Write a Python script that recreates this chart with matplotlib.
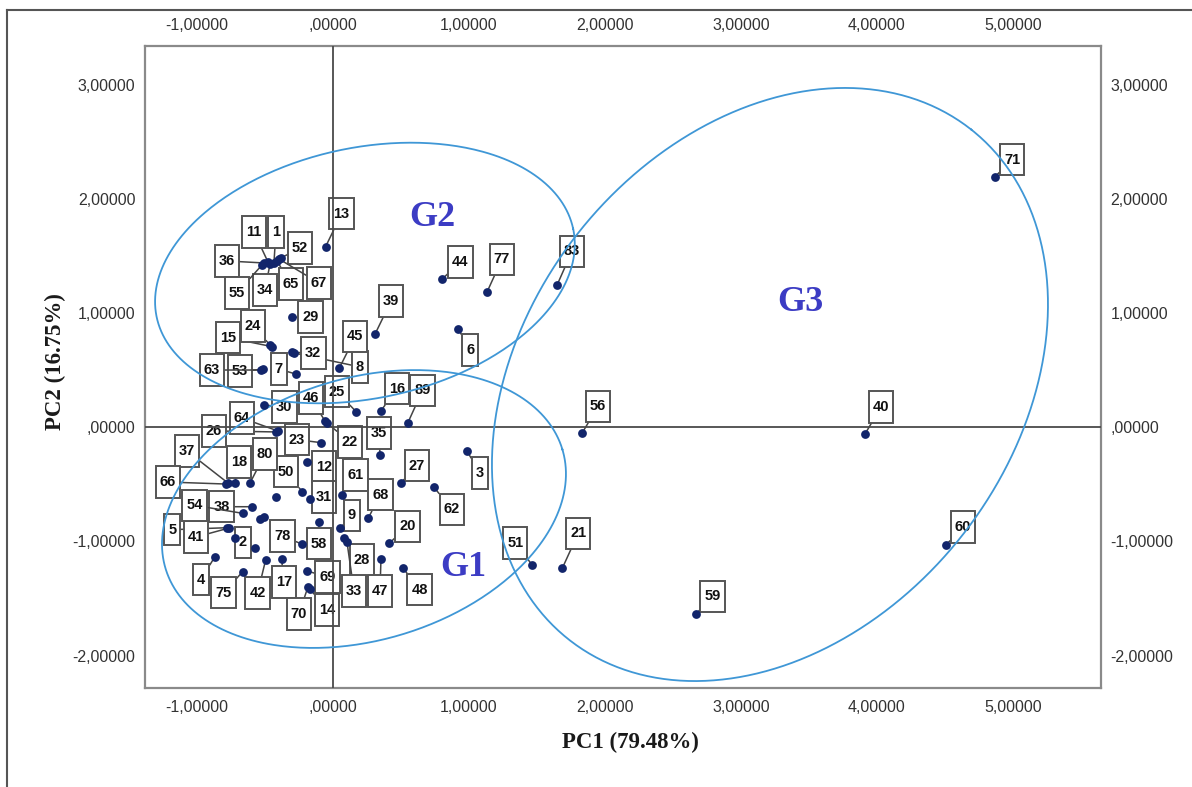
import numpy as np
import matplotlib.pyplot as plt
from matplotlib.lines import Line2D
from matplotlib.path import Path
from matplotlib.ticker import FuncFormatter

# PCA scores (label, PC1, PC2); '' = point drawn without label
point_ids = ['1', '2', '3', '4', '5', '6', '7', '8', '9', '11', '12', '13', '14', '15',
             '16', '17', '18', '20', '21', '22', '23', '24', '25', '26', '27', '28', '29',
             '30', '31', '32', '33', '34', '35', '36', '37', '38', '39', '40', '41', '42',
             '44', '45', '46', '47', '48', '50', '51', '52', '53', '54', '55', '56', '58',
             '59', '60', '61', '62', '63', '64', '65', '66', '67', '68', '69', '70', '71',
             '75', '77', '78', '80', '83', '89', '', '', '', '']
pc1 = [-0.434, -0.721, 0.985, -0.868, -0.777, 0.921, -0.274, -0.287, 0.051, -0.478,
       -0.193, -0.054, -0.169, -0.447, 0.353, -0.377, -0.721, 0.414, 1.686, -0.044,
       -0.088, -0.463, 0.169, -0.419, 0.500, 0.081, -0.304, -0.505, -0.169, -0.299,
       0.103, -0.463, 0.346, -0.507, -0.772, -0.598, 0.309, 3.912, -0.765, -0.495,
       0.804, 0.046, -0.059, 0.353, 0.513, -0.226, 1.465, -0.382, -0.513, -0.664,
       -0.522, 1.831, -0.103, 2.667, 4.507, 0.063, 0.743, -0.529, -0.404, -0.412,
       -0.787, -0.397, 0.261, -0.188, -0.184, 4.868, -0.664, 1.132, -0.230, -0.610,
       1.647, 0.549, -0.421, -0.537, -0.507, -0.574]
pc2 = [1.443, -0.972, -0.206, -1.133, -0.879, 0.864, 0.469, 0.654, -0.884, 1.452,
       -0.300, 1.586, -1.417, 0.709, 0.147, -1.154, -0.487, -1.016, -1.235, 0.039,
       -0.133, 0.724, 0.140, -0.039, -0.484, -0.969, 0.967, 0.197, -0.627, 0.660,
       -1.004, 1.434, -0.241, 1.443, -0.487, -0.695, 0.818, -0.057, -0.882, -1.162,
       1.303, 0.519, 0.057, -1.154, -1.230, -0.563, -1.206, 1.487, 0.511, -0.753,
       1.425, -0.051, -0.826, -1.639, -1.031, -0.592, -0.525, 0.504, -0.031, 1.461,
       -0.496, 1.478, -0.791, -1.259, -1.399, 2.200, -1.265, 1.186, -1.022, -0.487,
       1.247, 0.037, -0.607, -0.805, -0.788, -1.054]

# group ellipses: centre and two conjugate semi-axis vectors (data units)
group_names = ['G1', 'G2', 'G3']
group_centres = [(0.228, -0.715), (0.235, 1.355), (3.213, 0.377)]
group_axis_u = [(1.459, 0.522), (1.531, 0.388), (1.480, 2.236)]
group_axis_v = [(-0.277, 1.101), (-0.192, 1.075), (-1.410, 1.329)]
group_text_pos = [(0.956, -1.232), (0.728, 1.838), (3.434, 1.092)]

x_ticks = [-1, 0, 1, 2, 3, 4, 5]
y_ticks = [-2, -1, 0, 1, 2, 3]

# label box offsets from the point, in pixels (layout only)
label_offsets = {
    '13': (16, 33), '36': (-37, 2), '55': (-25, -28), '11': (-14, 30), '34': (-5, -26),
    '1': (2, 31), '65': (14, -23), '67': (40, -24), '52': (19, 10), '29': (19, 0),
    '15': (-44, 9), '24': (-17, 19), '32': (21, -1), '8': (66, -14), '45': (16, 32),
    '53': (-23, -2), '63': (-49, 0), '7': (-17, 5), '39': (16, 33), '30': (20, -2),
    '46': (-14, 23), '22': (23, -19), '25': (-19, 20), '16': (16, 22), '89': (15, 33),
    '44': (18, 17), '77': (15, 33), '6': (12, -21), '83': (15, 34), '56': (16, 27),
    '64': (-36, 13), '26': (-62, 1), '23': (-24, 3), '35': (-1, 22), '37': (-41, 32),
    '66': (-58, 2), '18': (4, 21), '80': (15, 29), '12': (17, -5), '50': (-16, 20),
    '31': (14, 2), '54': (-48, 8), '38': (-30, 0), '5': (-55, -2), '41': (-33, -9),
    '2': (8, -4), '78': (-19, 8), '58': (0, -22), '9': (12, 13), '61': (14, 20),
    '68': (12, 23), '28': (18, -22), '33': (7, -49), '47': (-1, -32), '20': (18, 17),
    '48': (17, -22), '27': (16, 17), '62': (18, -22), '3': (13, -22), '4': (-14, -23),
    '75': (-19, -21), '42': (-8, -33), '17': (2, -23), '69': (20, -6), '70': (-9, -27),
    '14': (17, -21), '51': (-17, 22), '21': (16, 35), '59': (17, 18), '71': (17, 17),
    '40': (16, 27), '60': (17, 18),
}


def tall_box(x0, y0, width, height, mutation_size):
    padx = 0.28 * mutation_size
    pady = 0.6 * mutation_size
    verts = [(x0 - padx, y0 - pady), (x0 + width + padx, y0 - pady),
             (x0 + width + padx, y0 + height + pady), (x0 - padx, y0 + height + pady),
             (x0 - padx, y0 - pady)]
    return Path(verts, closed=True)


def spss_fmt(value, pos):
    text = f"{value:.5f}".replace('.', ',')
    if text.startswith('0,'):
        text = text[1:]
    return text


fig = plt.figure(figsize=(11.92, 7.87), dpi=100)
ax = fig.add_axes([145 / 1192, 1 - 688 / 787, 956 / 1192, 642 / 787])
ax.set_xlim(-1.382, 5.647)
ax.set_ylim(-2.285, 3.346)

ax.axhline(0, color='#4a4a4a', lw=1.3, zorder=4)
ax.axvline(0, color='#4a4a4a', lw=1.3, zorder=4)

t = np.linspace(0, 2 * np.pi, 400)
for centre, u, v in zip(group_centres, group_axis_u, group_axis_v):
    ex = centre[0] + u[0] * np.cos(t) + v[0] * np.sin(t)
    ey = centre[1] + u[1] * np.cos(t) + v[1] * np.sin(t)
    ax.plot(ex, ey, color='#3f97d6', lw=1.3, zorder=5)

for name, pos in zip(group_names, group_text_pos):
    ax.text(pos[0], pos[1], name, ha='center', va='center', fontsize=26,
            fontweight='bold', family='Liberation Serif', color='#3c3cc4', zorder=6)

ax.scatter(pc1, pc2, s=40, color='#12256b', zorder=7, linewidths=0)

for pid, x, y in zip(point_ids, pc1, pc2):
    if not pid:
        continue
    dx, dy = label_offsets[pid]
    ax.annotate(pid, xy=(x, y), xytext=(dx, dy), textcoords='offset pixels',
                ha='center', va='center', fontsize=10.5, fontweight='bold',
                family='Liberation Sans', color='#111111', zorder=3,
                bbox=dict(boxstyle=tall_box, fc='white', ec='#555555', lw=1.4),
                arrowprops=dict(arrowstyle='-', color='#444444', lw=1.1,
                                shrinkA=0, shrinkB=0))

ax.set_xticks(x_ticks)
ax.set_yticks(y_ticks)
ax.xaxis.set_major_formatter(FuncFormatter(spss_fmt))
ax.yaxis.set_major_formatter(FuncFormatter(spss_fmt))
ax.tick_params(axis='x', top=True, labeltop=True, length=0, pad=9,
               labelsize=11.5, labelcolor='#333333')
ax.tick_params(axis='y', right=True, labelright=True, length=0, pad=7,
               labelsize=11.5, labelcolor='#333333')
for label in ax.get_xticklabels() + ax.get_yticklabels():
    label.set_family('Liberation Sans')
for side in ['top', 'bottom', 'left', 'right']:
    ax.spines[side].set_color('#8a8a8a')
    ax.spines[side].set_linewidth(1.6)

fig.text(630 / 1192, 1 - 742 / 787, 'PC1 (79.48%)', ha='center', va='center',
         fontsize=16.5, fontweight='bold', family='Liberation Serif', color='#1a1a1a')
fig.text(55 / 1192, 1 - 362 / 787, 'PC2 (16.75%)', ha='center', va='center',
         rotation=90, fontsize=16.5, fontweight='bold', family='Liberation Serif',
         color='#1a1a1a')

# outer frame lines of the screenshot
fig.add_artist(Line2D([7 / 1192, 1], [1 - 10 / 787, 1 - 10 / 787],
                      transform=fig.transFigure, color='#555555', lw=1.5))
fig.add_artist(Line2D([7 / 1192, 7 / 1192], [0, 1 - 10 / 787],
                      transform=fig.transFigure, color='#555555', lw=1.5))

fig.savefig('out.png', dpi=100)
